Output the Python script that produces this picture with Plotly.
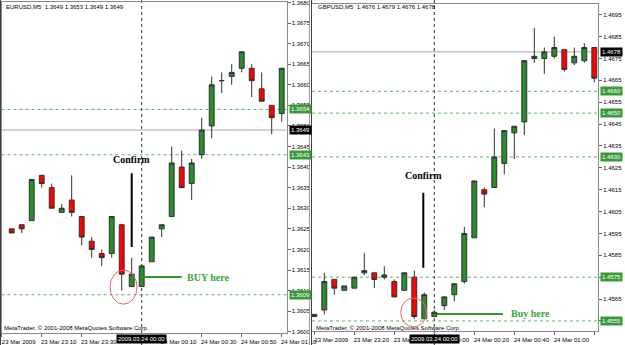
import plotly.graph_objects as go

W, H = 625, 345

# ---------------- data: EURUSD M5 (left panel) ----------------
eur_idx = list(range(28))
eur_open = [1.3625, 1.3626, 1.3627, 1.3638, 1.3635, 1.3629, 1.3632, 1.3628, 1.3622, 1.3619, 1.3619, 1.3626, 1.3611, 1.3611,
            1.3617, 1.3625, 1.3628, 1.3640, 1.3636, 1.3643, 1.3650, 1.3661, 1.3662, 1.3664, 1.3664, 1.3659, 1.3655, 1.3653]
eur_high = [1.3625, 1.3626, 1.3637, 1.3638, 1.3636, 1.3631, 1.3638, 1.3628, 1.3623, 1.3620, 1.3628, 1.3626, 1.3618, 1.3616,
            1.3623, 1.3626, 1.3645, 1.3644, 1.3642, 1.3652, 1.3662, 1.3663, 1.3665, 1.3668, 1.3665, 1.3663, 1.3655, 1.3664]
eur_low = [1.3624, 1.3624, 1.3627, 1.3635, 1.3630, 1.3629, 1.3628, 1.3621, 1.3618, 1.3616, 1.3618, 1.3610, 1.3611, 1.3611,
           1.3617, 1.3623, 1.3628, 1.3635, 1.3632, 1.3642, 1.3647, 1.3658, 1.3660, 1.3663, 1.3657, 1.3656, 1.3648, 1.3651]
eur_close = [1.3624, 1.3625, 1.3637, 1.3636, 1.3630, 1.3630, 1.3629, 1.3623, 1.3620, 1.3618, 1.3628, 1.3614, 1.3614, 1.3616,
             1.3623, 1.3626, 1.3641, 1.3635, 1.3641, 1.3649, 1.3660, 1.3661, 1.3663, 1.3668, 1.3661, 1.3656, 1.3652, 1.3664]
eur_tick_idx = [-1, 3, 7, 11, 15, 19, 23, 27]
# the 23:50 label is completely hidden under the highlighted date box in the original
eur_tick_txt = ["23 Mar 2009", "23 Mar 23:10", "23 Mar 23:30", "",
                "24 Mar 00:10", "24 Mar 00:30", "24 Mar 00:50", "24 Mar 01:10"]
eur_levels = [1.3654, 1.3643, 1.3609]
eur_bid = 1.3649
eur_sep_idx = 13
eur_title = "EURUSD,M5  1.3649 1.3653 1.3649 1.3649"

# ---------------- data: GBPUSD M5 (right panel) ----------------
gbp_idx = list(range(29))
gbp_open = [1.4557, 1.4560, 1.4574, 1.4569, 1.4570, 1.4577, 1.4577, 1.4575, 1.4573, 1.4569, 1.4575, 1.4556, 1.4557, 1.4562,
            1.4567, 1.4573, 1.4593, 1.4615, 1.4616, 1.4627, 1.4641, 1.4646, 1.4675, 1.4675, 1.4676, 1.4679, 1.4673, 1.4674, 1.4680]
gbp_high = [1.4558, 1.4577, 1.4574, 1.4571, 1.4575, 1.4586, 1.4577, 1.4580, 1.4574, 1.4577, 1.4578, 1.4568, 1.4560, 1.4566,
            1.4572, 1.4598, 1.4619, 1.4616, 1.4643, 1.4642, 1.4644, 1.4674, 1.4689, 1.4680, 1.4685, 1.4679, 1.4680, 1.4682, 1.4680]
gbp_low = [1.4557, 1.4558, 1.4567, 1.4569, 1.4570, 1.4576, 1.4570, 1.4574, 1.4566, 1.4569, 1.4556, 1.4556, 1.4557, 1.4560,
           1.4564, 1.4572, 1.4593, 1.4607, 1.4616, 1.4622, 1.4629, 1.4640, 1.4673, 1.4668, 1.4675, 1.4669, 1.4672, 1.4673, 1.4664]
gbp_close = [1.4558, 1.4573, 1.4570, 1.4571, 1.4575, 1.4578, 1.4574, 1.4576, 1.4566, 1.4577, 1.4557, 1.4567, 1.4559, 1.4566,
             1.4572, 1.4595, 1.4619, 1.4613, 1.4630, 1.4642, 1.4644, 1.4674, 1.4676, 1.4678, 1.4680, 1.4670, 1.4676, 1.4680, 1.4666]
gbp_tick_idx = [0, 4, 8, 12, 16, 20, 24, 28]
gbp_tick_txt = ["23 Mar 2009", "23 Mar 23:20", "23 Mar 23:40", "24 Mar 00:00",
                "24 Mar 00:20", "24 Mar 00:40", "24 Mar 01:00", "24 Mar 01:20"]
gbp_levels = [1.4660, 1.4650, 1.4630, 1.4575, 1.4555]
gbp_bid = 1.4678
gbp_sep_idx = 12
gbp_title = "GBPUSD,M5  1.4676 1.4679 1.4676 1.4678"

sep_label = "2009.03.24 00:00"
copyright_txt = "MetaTrader, © 2001-2008 MetaQuotes Software Corp."

# annotations drawn on the chart (candle index, price)
eur_confirm = dict(x=12, y_top=1.36385, y_bot=1.36206, text_y=1.36400)
eur_circle = dict(x0=9.83, x1=12.53, y0=1.36067, y1=1.36150)
eur_buy = dict(x0=13.1, x1=17.0, y=1.36133, text_x=17.3, text="BUY here")
gbp_confirm = dict(x=10.9, y_top=1.46136, y_bot=1.45793, text_y=1.46180)
gbp_circle = dict(x0=8.64, x1=11.24, y0=1.45523, y1=1.45655)
gbp_buy = dict(x0=12.27, x1=18.87, y=1.45582, text_x=19.5, text="Buy here")

GREEN = "#2b8c2b"
RED = "#ff0000"
EDGE = "#303030"
FONT = "Liberation Sans"

fig = go.Figure()


def candles(x, o, h, l, c, xa, ya):
    return go.Candlestick(
        x=x, open=o, high=h, low=l, close=c, xaxis=xa, yaxis=ya,
        increasing=dict(fillcolor=GREEN, line=dict(color=EDGE, width=1)),
        decreasing=dict(fillcolor=RED, line=dict(color=EDGE, width=1)),
        whiskerwidth=0, showlegend=False, hoverinfo="skip")


fig.add_trace(candles(eur_idx, eur_open, eur_high, eur_low, eur_close, "x", "y"))
fig.add_trace(candles(gbp_idx, gbp_open, gbp_high, gbp_low, gbp_close, "x2", "y2"))


def px_x(p):
    return p / W


def px_y(p):
    return 1 - p / H


axis_common = dict(showgrid=False, zeroline=False, showline=True, mirror=True,
                   linecolor="#8a8a8a", linewidth=1, ticks="outside", ticklen=3,
                   tickcolor="#666", tickfont=dict(family=FONT, size=6, color="black"),
                   fixedrange=True, automargin=False, tickangle=0)

fig.update_layout(
    width=W, height=H, autosize=False,
    margin=dict(l=0, r=0, t=0, b=0, pad=0, autoexpand=False),
    paper_bgcolor="white", plot_bgcolor="white", showlegend=False,
    xaxis=dict(domain=[px_x(1.5), px_x(286.5)], range=[-1.02, 27.48], anchor="y",
               tickmode="array", tickvals=eur_tick_idx, ticktext=eur_tick_txt,
               ticklabelshift=17, rangeslider=dict(visible=False), **axis_common),
    yaxis=dict(domain=[px_y(333), px_y(2)], range=[1.35997, 1.36801], anchor="x", side="right",
               tickmode="linear", tick0=1.3600, dtick=0.0005, tickformat=".4f", **axis_common),
    xaxis2=dict(domain=[px_x(312), px_x(598)], range=[-0.23, 28.37], anchor="y2",
                tickmode="array", tickvals=gbp_tick_idx, ticktext=gbp_tick_txt,
                ticklabelshift=17, rangeslider=dict(visible=False), **axis_common),
    yaxis2=dict(domain=[px_y(331), px_y(4)], range=[1.45504, 1.46999], anchor="x2", side="right",
                tickmode="linear", tick0=1.4555, dtick=0.0010, tickformat=".4f", **axis_common),
)

shapes = []
annotations = []


def panel(xa, ya, levels, bid, sep_idx, confirm, circle, buy, title, title_x, box_x):
    xd = xa + " domain"
    for lv in levels:
        shapes.append(dict(type="line", xref=xd, yref=ya, x0=0, x1=1, y0=lv, y1=lv,
                           line=dict(color="#5cb85c", width=1, dash="dot"), layer="below"))
    shapes.append(dict(type="line", xref=xd, yref=ya, x0=0, x1=1, y0=bid, y1=bid,
                       line=dict(color="#a8a8a8", width=1), layer="below"))
    shapes.append(dict(type="line", xref=xa, yref="paper", x0=sep_idx, x1=sep_idx, y0=0, y1=1,
                       line=dict(color="#333", width=1, dash="dot"), layer="below"))
    shapes.append(dict(type="line", xref=xa, yref=ya, x0=confirm["x"], x1=confirm["x"],
                       y0=confirm["y_bot"], y1=confirm["y_top"], line=dict(color="black", width=2)))
    shapes.append(dict(type="circle", xref=xa, yref=ya, x0=circle["x0"], x1=circle["x1"],
                       y0=circle["y0"], y1=circle["y1"], line=dict(color="#f06060", width=1)))
    shapes.append(dict(type="line", xref=xa, yref=ya, x0=buy["x0"], x1=buy["x1"], y0=buy["y"], y1=buy["y"],
                       line=dict(color="#2e9a2e", width=2)))
    annotations.append(dict(xref=xa, yref=ya, x=confirm["x"], y=confirm["text_y"], text="<b>Confirm</b>",
                            showarrow=False, xanchor="center", yanchor="bottom",
                            font=dict(family="Liberation Serif", size=10, color="black")))
    annotations.append(dict(xref=xa, yref=ya, x=buy["text_x"], y=buy["y"], text="<b>" + buy["text"] + "</b>",
                            showarrow=False, xanchor="left", yanchor="middle",
                            font=dict(family="Liberation Serif", size=10, color="#3ca33c")))
    annotations.append(dict(xref="paper", yref="paper", x=title_x, y=px_y(7), text=title, showarrow=False,
                            xanchor="left", yanchor="middle", font=dict(family=FONT, size=6, color="black")))
    annotations.append(dict(xref="paper", yref="paper", x=title_x - px_x(2), y=px_y(328), text=copyright_txt,
                            showarrow=False, xanchor="left", yanchor="middle",
                            font=dict(family=FONT, size=6, color="black")))
    for lv in levels:
        annotations.append(dict(xref="paper", yref=ya, x=box_x, y=lv, text=f"{lv:.4f}", showarrow=False,
                                xanchor="left", yanchor="middle", bgcolor="#3a9a3a", borderpad=1,
                                font=dict(family=FONT, size=6, color="white")))
    annotations.append(dict(xref="paper", yref=ya, x=box_x, y=bid, text=f"{bid:.4f}", showarrow=False,
                            xanchor="left", yanchor="middle", bgcolor="black", borderpad=1,
                            font=dict(family=FONT, size=6, color="white")))
    annotations.append(dict(xref=xa, yref="paper", x=sep_idx, y=px_y(338.5), text=sep_label, showarrow=False,
                            xanchor="center", yanchor="middle", bgcolor="black", borderpad=1,
                            font=dict(family=FONT, size=6, color="white")))


panel("x", "y", eur_levels, eur_bid, eur_sep_idx, eur_confirm, eur_circle, eur_buy,
      eur_title, px_x(4), px_x(288.5))
panel("x2", "y2", gbp_levels, gbp_bid, gbp_sep_idx, gbp_confirm, gbp_circle, gbp_buy,
      gbp_title, px_x(316), px_x(600))

# window separator between panels
shapes.append(dict(type="rect", xref="paper", yref="paper", x0=px_x(309), x1=px_x(312), y0=0, y1=1,
                   fillcolor="white", line=dict(width=0), layer="above"))
shapes.append(dict(type="line", xref="paper", yref="paper", x0=px_x(309.5), x1=px_x(309.5), y0=0, y1=1,
                   line=dict(color="#9a9a9a", width=1), layer="above"))
shapes.append(dict(type="line", xref="paper", yref="paper", x0=px_x(311.5), x1=px_x(311.5), y0=0, y1=1,
                   line=dict(color="#404040", width=1), layer="above"))
shapes.append(dict(type="line", xref="paper", yref="paper", x0=px_x(0.5), x1=px_x(0.5), y0=0, y1=1,
                   line=dict(color="#404040", width=1), layer="above"))

fig.update_layout(shapes=shapes, annotations=annotations)
fig.write_html("out.html", config=dict(displayModeBar=False, staticPlot=True))
